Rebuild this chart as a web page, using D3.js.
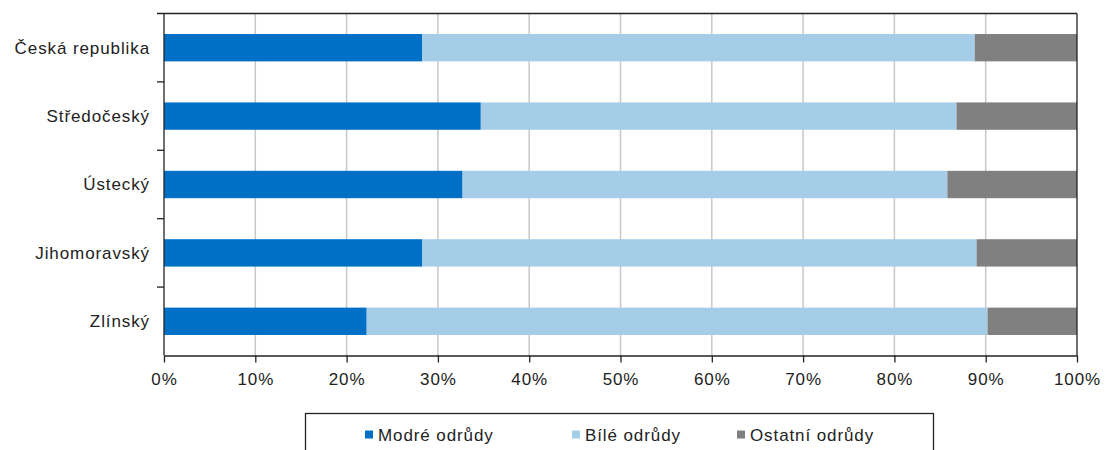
<!DOCTYPE html>
<html><head><meta charset="utf-8">
<script src="https://cdn.jsdelivr.net/npm/d3@7"></script>
<style>body{margin:0;background:#fff;}svg{display:block;font-family:"Liberation Sans",Arial,sans-serif;}</style>
</head><body><svg id="c" width="1106" height="450"></svg>
<script>
const categories = ["Česká republika","Středočeský","Ústecký","Jihomoravský","Zlínský"];
const seriesNames = ["Modré odrůdy","Bílé odrůdy","Ostatní odrůdy"];
const modre = [28.3, 34.7, 32.7, 28.3, 22.2];
const bile = [60.5, 52.1, 53.1, 60.7, 68.0];
const ostatni = [11.2, 13.2, 14.2, 11.0, 9.8];
const colors = ["#0070c6","#a6cde8","#808080"];
const xTicks = [0,10,20,30,40,50,60,70,80,90,100];

const svg = d3.select("#c");
const m = {l:164, r:1077, t:13.5, b:355.5};
const x = d3.scaleLinear().domain([0,100]).range([m.l, m.r]);
const y = d3.scaleBand().domain(categories).range([m.t, m.b]).paddingInner(0.6).paddingOuter(0.3);

const rows = categories.map((c,i)=>({cat:c, Modre:modre[i], Bile:bile[i], Ostatni:ostatni[i]}));
const stack = d3.stack().keys(["Modre","Bile","Ostatni"])(rows);

// gridlines
svg.append("g").selectAll("line").data(xTicks.slice(1,-1)).join("line")
  .attr("x1",d=>x(d)).attr("x2",d=>x(d)).attr("y1",m.t).attr("y2",m.b)
  .attr("stroke","#c8c8c8").attr("stroke-width",1.5);

// bars
svg.append("g").selectAll("g").data(stack).join("g").attr("fill",(d,i)=>colors[i])
  .selectAll("rect").data(d=>d).join("rect")
  .attr("x",d=>x(d[0])).attr("width",d=>x(d[1])-x(d[0]))
  .attr("y",d=>y(d.data.cat)).attr("height",y.bandwidth());

// frame top & right
svg.append("line").attr("x1",157).attr("x2",m.r).attr("y1",m.t).attr("y2",m.t).attr("stroke","#222").attr("stroke-width",1.3);
svg.append("line").attr("x1",m.r).attr("x2",m.r).attr("y1",m.t).attr("y2",m.b).attr("stroke","#222").attr("stroke-width",1.3);

// x axis
const xa = svg.append("g").attr("transform",`translate(0,${m.b})`)
  .call(d3.axisBottom(x).tickValues(xTicks).tickFormat(d=>d+"%").tickSize(7).tickSizeOuter(0));
xa.select(".domain").attr("stroke","#222").attr("stroke-width",1.3);
xa.selectAll(".tick line").attr("stroke","#222").attr("stroke-width",1.3);
xa.selectAll("text").attr("font-size","17px").attr("letter-spacing","0.9px").attr("fill","#222")
  .attr("y",23.5).attr("dy","0.35em").attr("font-family","Liberation Sans, Arial, sans-serif");

// y axis
const bounds = d3.range(1,categories.length).map(i=>m.t + i*(m.b-m.t)/categories.length);
const ya = svg.append("g").attr("transform",`translate(${m.l},0)`);
ya.append("line").attr("x1",0).attr("x2",0).attr("y1",m.t).attr("y2",m.b).attr("stroke","#222").attr("stroke-width",1.3);
ya.selectAll("line.tk").data(bounds).join("line").attr("class","tk")
  .attr("x1",-7).attr("x2",0).attr("y1",d=>d).attr("y2",d=>d).attr("stroke","#222").attr("stroke-width",1.3);
ya.selectAll("text").data(categories).join("text")
  .attr("x",-14).attr("y",d=>y(d)+y.bandwidth()/2).attr("dy","0.35em")
  .attr("text-anchor","end").attr("font-size","17px").attr("letter-spacing","0.9px").attr("fill","#222").text(d=>d);

// legend
svg.append("rect").attr("x",305.5).attr("y",413.5).attr("width",628).attr("height",50)
  .attr("fill","none").attr("stroke","#222").attr("stroke-width",1.3);
const legX = [365, 572, 737];
const lg = svg.append("g").selectAll("g").data(seriesNames).join("g")
  .attr("transform",(d,i)=>`translate(${legX[i]},435)`);
lg.append("rect").attr("x",0).attr("y",-4.5).attr("width",8).attr("height",8).attr("fill",(d,i)=>colors[i]);
lg.append("text").attr("x",13).attr("y",0).attr("dy","0.35em").attr("font-size","17px").attr("letter-spacing","0.9px").attr("fill","#222").text(d=>d);
</script></body></html>
